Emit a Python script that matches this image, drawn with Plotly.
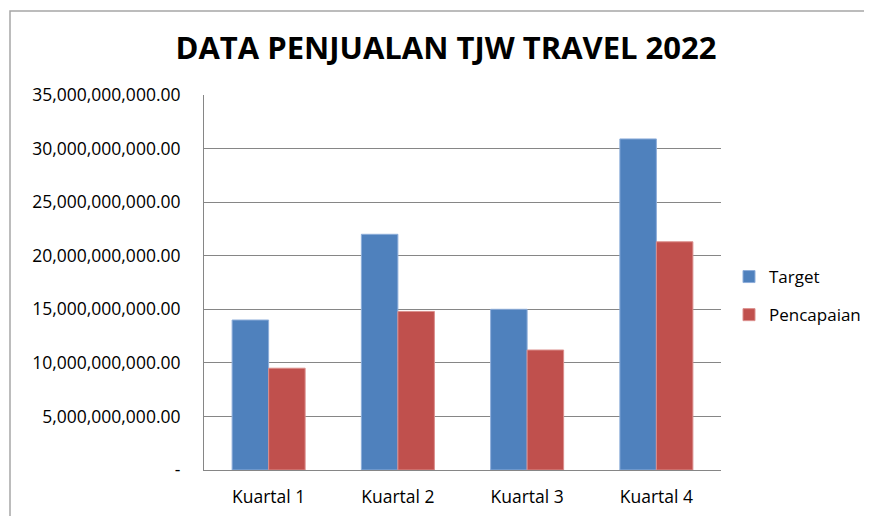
import plotly.graph_objects as go

categories = ["Kuartal 1", "Kuartal 2", "Kuartal 3", "Kuartal 4"]
target = [14.0e9, 22.0e9, 15.0e9, 30.9e9]
pencapaian = [9.5e9, 14.8e9, 11.2e9, 21.3e9]
tick_vals = [0, 5e9, 10e9, 15e9, 20e9, 25e9, 30e9, 35e9]
tick_text = ["-", "5,000,000,000.00", "10,000,000,000.00", "15,000,000,000.00",
             "20,000,000,000.00", "25,000,000,000.00", "30,000,000,000.00",
             "35,000,000,000.00"]

FONT = "Open Sans"
OFF = 8  # page body margin

fig = go.Figure()
fig.add_trace(go.Bar(x=categories, y=target, name="Target",
                     marker=dict(color="#4F81BD", line=dict(color="#8EAEDA", width=1)),
                     legendgroup="a"))
fig.add_trace(go.Bar(x=categories, y=pencapaian, name="Pencapaian",
                     marker=dict(color="#C0504D", line=dict(color="#DB8E8C", width=1)),
                     legendgroup="b"))

W, H = 872 - OFF, 516 - OFF
# plot area in reference pixels: left 204, right 721, top 95, bottom 470
L = 204 - OFF
T = 95 - OFF
R = W - (721 - OFF)
B = H - (470 - OFF)
pw, ph = W - L - R, H - T - B

def px(x):
    return (x - OFF - L) / pw

def py(y):
    return (H - B - (y - OFF)) / ph

fig.update_layout(
    width=W, height=H,
    margin=dict(l=L, r=R, t=T, b=B, autoexpand=False),
    paper_bgcolor="white", plot_bgcolor="white",
    barmode="group", bargap=0.435, bargroupgap=0,
    title=dict(text="<b>DATA PENJUALAN TJW TRAVEL 2022</b>",
               xref="container", x=(446 - OFF) / W, xanchor="center",
               yref="container", y=1 - (48 - OFF) / H, yanchor="middle",
               font=dict(family=FONT, size=31, color="black")),
    font=dict(family=FONT, size=17.5, color="black"),
    legend=dict(x=px(729), xanchor="left", y=py(296), yanchor="middle",
                font=dict(family=FONT, size=17, color="black"),
                tracegroupgap=13, itemwidth=30, bgcolor="rgba(0,0,0,0)"),
    xaxis=dict(showline=True, linecolor="#868686", linewidth=1,
               ticks="", showgrid=False, tickfont=dict(size=17.5),
               ticklabelstandoff=11),
    yaxis=dict(range=[0, 35e9], tickvals=tick_vals, ticktext=tick_text,
               showline=True, linecolor="#868686", linewidth=1,
               showgrid=True, gridcolor="#868686", gridwidth=1,
               zeroline=False, ticks="", tickfont=dict(size=17.5),
               ticklabelstandoff=19),
    shapes=[dict(type="rect", xref="paper", yref="paper",
                 x0=px(10), x1=px(890), y0=py(540), y1=py(11),
                 line=dict(color="#A6A6A6", width=1.5), fillcolor="rgba(0,0,0,0)",
                 layer="below")],
)

fig.write_html("out.html")
